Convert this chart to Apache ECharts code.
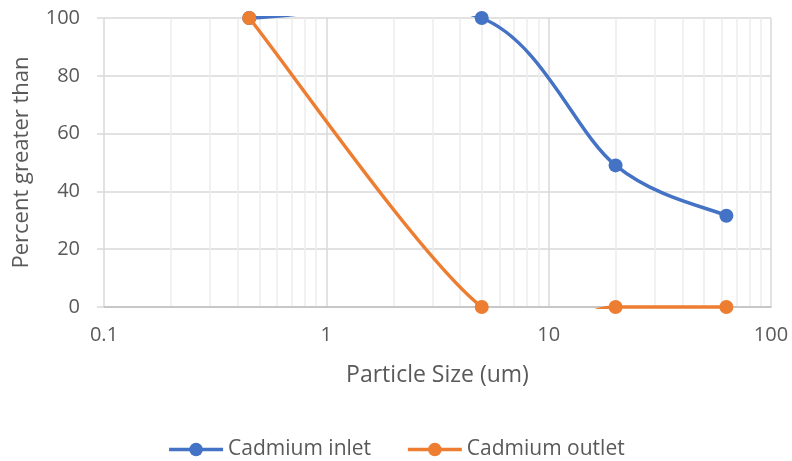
<!DOCTYPE html>
<html><head><meta charset="utf-8">
<script src="https://cdn.jsdelivr.net/npm/echarts@6/dist/echarts.min.js"></script>
<style>html,body{margin:0;padding:0;background:#fff}#c{width:792px;height:461px}</style>
</head><body><div id="c"></div>
<script>
const inletX = [0.45, 5, 20, 63];
const inletY = [100, 100, 49, 31.6];
const outletX = [0.45, 5, 20, 63];
const outletY = [100, 0, 0, 0];
const minorGrid = [0.2,0.3,0.4,0.5,0.6,0.7,0.8,0.9,2,3,4,5,6,7,8,9,20,30,40,50,60,70,80,90];
const yTicks = [0, 20, 40, 60, 80, 100];

const BLUE = '#4472C4', ORANGE = '#ED7D31';
const font = '"Open Sans", sans-serif';
const TXT = '#595959';

// Excel-like smoothed curve: cubic Bezier per segment, control points from neighbours
function curveRenderer(xs, ys, color) {
  return function (params, api) {
    const i = params.dataIndex, n = xs.length;
    if (i >= n - 1) return null;
    const P = k => api.coord([xs[Math.max(0, Math.min(n - 1, k))], ys[Math.max(0, Math.min(n - 1, k))]]);
    const p0 = P(i - 1), p1 = P(i), p2 = P(i + 1), p3 = P(i + 2);
    const t = 1 / 6;
    const cs = params.coordSys;
    return {
      type: 'group',
      clipPath: { type: 'rect', shape: { x: cs.x - 2, y: cs.y - 2, width: cs.width + 4, height: cs.height + 4 } },
      children: [{
        type: 'bezierCurve',
        shape: {
          x1: p1[0], y1: p1[1], x2: p2[0], y2: p2[1],
          cpx1: p1[0] + (p2[0] - p0[0]) * t, cpy1: p1[1] + (p2[1] - p0[1]) * t,
          cpx2: p2[0] - (p3[0] - p1[0]) * t, cpy2: p2[1] - (p3[1] - p1[1]) * t
        },
        style: { stroke: color, lineWidth: 3.5, fill: null, lineCap: 'round' },
        silent: true
      }]
    };
  };
}

const chart = echarts.init(document.getElementById('c'), null, {renderer:'canvas'});
chart.setOption({
  animation:false,
  textStyle:{fontFamily:font},
  grid:{left:104,right:21,top:18,bottom:154,containLabel:false},
  legend:{
    top:434, left:'center', itemWidth:54, itemHeight:17, itemGap:35,
    data:['Cadmium inlet','Cadmium outlet'],
    lineStyle:{opacity:1,width:3.5},
    textStyle:{fontFamily:font,fontSize:21,color:TXT}
  },
  xAxis:{
    type:'log', min:0.1, max:100, logBase:10,
    name:'Particle Size (um)', nameLocation:'middle', nameGap:57,
    nameTextStyle:{fontFamily:font,fontSize:23,color:TXT},
    axisLine:{show:true,lineStyle:{color:'#bfbfbf',width:1.5}},
    axisTick:{show:false},
    axisLabel:{margin:18,fontSize:20,color:TXT,fontFamily:font},
    splitLine:{show:true,lineStyle:{color:'#d9d9d9',width:1.5}}
  },
  yAxis:{
    type:'value', min:0, max:100, interval:20,
    name:'Percent greater than', nameLocation:'middle', nameGap:71,
    nameTextStyle:{fontFamily:font,fontSize:22,color:TXT},
    axisLine:{show:false},
    axisTick:{show:true,length:7,lineStyle:{color:'#d9d9d9',width:1.5}},
    axisLabel:{margin:24,fontSize:20,color:TXT,fontFamily:font},
    splitLine:{show:true,lineStyle:{color:'#d9d9d9',width:1.5}}
  },
  series:[
    {
      type:'line', name:'minor', data:[], silent:true, z:0,
      markLine:{silent:true,z:0,symbol:['none','none'],label:{show:false},
        lineStyle:{color:'#ededed',width:1.5,type:'solid'},
        data:minorGrid.map(v=>({xAxis:v}))}
    },
    {
      type:'custom', name:'inletCurve', clip:false, z:3,
      data:inletX.map((x,i)=>[x,inletY[i]]),
      renderItem:curveRenderer(inletX, inletY, BLUE)
    },
    {
      type:'line', name:'Cadmium inlet', z:4,
      data:inletX.map((x,i)=>[x,inletY[i]]),
      symbol:'circle', symbolSize:14, color:BLUE,
      lineStyle:{width:3.5,color:BLUE,opacity:0}, itemStyle:{color:BLUE}
    },
    {
      type:'custom', name:'outletCurve', clip:false, z:5,
      data:outletX.map((x,i)=>[x,outletY[i]]),
      renderItem:curveRenderer(outletX, outletY, ORANGE)
    },
    {
      type:'line', name:'Cadmium outlet', z:6,
      data:outletX.map((x,i)=>[x,outletY[i]]),
      symbol:'circle', symbolSize:14, color:ORANGE,
      lineStyle:{width:3.5,color:ORANGE,opacity:0}, itemStyle:{color:ORANGE}
    }
  ]
});
</script></body></html>
